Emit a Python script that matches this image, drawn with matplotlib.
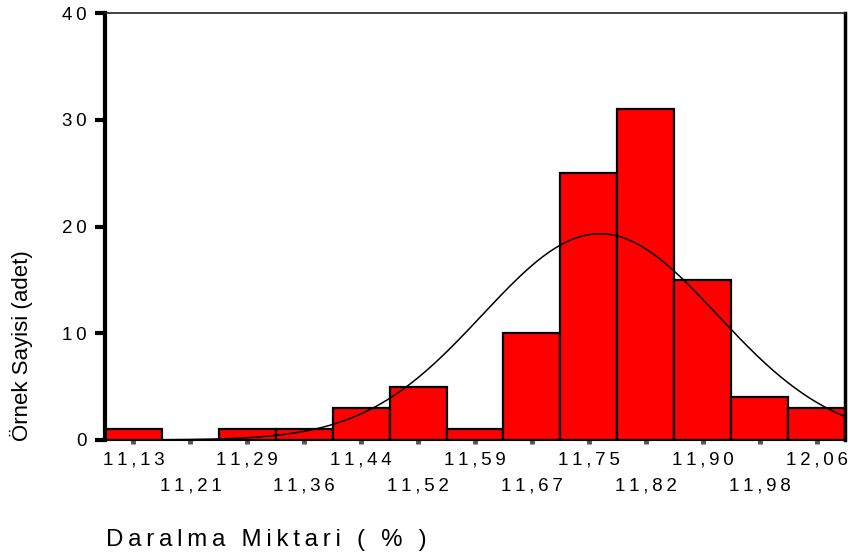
import numpy as np
import matplotlib
matplotlib.use("Agg")
import matplotlib.pyplot as plt

plt.rcParams['font.family'] = ['Liberation Sans', 'DejaVu Sans']

# Histogram of shrinkage amounts (%)
bin_labels = ["11,13", "11,21", "11,29", "11,36", "11,44", "11,52", "11,59",
              "11,67", "11,75", "11,82", "11,90", "11,98", "12,06"]
counts = [1, 0, 1, 1, 3, 5, 1, 10, 25, 31, 15, 4, 3]
first_center = 11.13
bin_width = 0.0775

# Fitted normal curve parameters
fit_mean = 11.765
fit_sd = 0.160
n_total = sum(counts)

y_ticks = [0, 10, 20, 30, 40]

centers = first_center + bin_width * np.arange(len(counts))

fig = plt.figure(figsize=(8.51, 5.55), dpi=100)
ax = fig.add_axes([105 / 851, 1 - 440 / 555, 740 / 851, 427 / 555])

ax.bar(centers, counts, width=bin_width, color='#ff0000', edgecolor='black',
       linewidth=1.6, zorder=2)

xs = np.linspace(centers[0] - bin_width / 2, centers[-1] + bin_width / 2, 400)
pdf = n_total * bin_width / (fit_sd * np.sqrt(2 * np.pi)) * \
    np.exp(-0.5 * ((xs - fit_mean) / fit_sd) ** 2)
ax.plot(xs, pdf, color='black', linewidth=1.1, zorder=3)

ax.set_xlim(centers[0] - bin_width / 2, centers[-1] + bin_width / 2)
ax.set_ylim(0, 40)

# spaced-out characters, alternating rows for the tick labels
def spaced(s):
    return "\u2009".join(s)

ax.set_xticks(centers)
ax.set_xticklabels([spaced(l) if i % 2 == 0 else "\n" + spaced(l)
                    for i, l in enumerate(bin_labels)],
                   fontsize=13.5, linespacing=1.75)
ax.tick_params(axis='x', direction='out', length=3, width=3.5, color='#555555', pad=5)

ax.set_yticks(y_ticks)
ax.set_yticklabels([spaced(str(v)) for v in y_ticks], fontsize=13.5)
ax.tick_params(axis='y', direction='out', length=7, width=3, color='black', pad=6)

ax.spines['left'].set_linewidth(3)
ax.spines['right'].set_linewidth(2.5)
ax.spines['top'].set_linewidth(1.2)
ax.spines['bottom'].set_linewidth(1.5)
ax.spines['top'].set_color('#222222')

fig.text(106 / 851, 1 - 540 / 555, spaced("Daralma Miktari ( % )"), fontsize=17.3,
         ha='left', va='center')
fig.text(21 / 851, 1 - 441 / 555, "Örnek Sayisi (adet)", fontsize=16,
         rotation=90, ha='center', va='bottom')

fig.savefig("out.png", dpi=100)
